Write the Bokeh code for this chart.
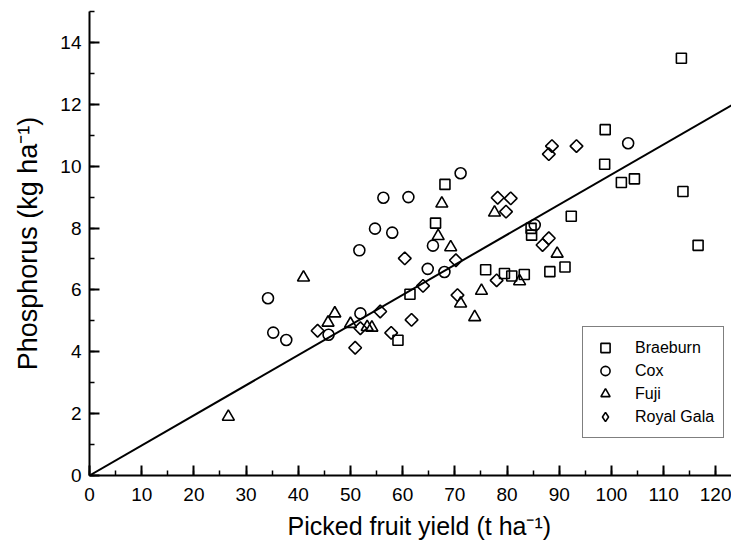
import math
from bokeh.plotting import figure
from bokeh.models import Range1d, SingleIntervalTicker, Slope, Legend, LegendItem, Title
from bokeh.embed import file_html
from bokeh.resources import INLINE

# Data
braeburn_x = [59.1, 61.4, 66.3, 68.1, 75.9, 79.5, 80.9, 83.3, 84.6, 84.7, 88.2, 91.1, 92.3, 98.7, 98.8, 101.9, 104.4, 113.4, 113.7, 116.6]
braeburn_y = [4.37, 5.86, 8.16, 9.41, 6.65, 6.53, 6.45, 6.50, 7.99, 7.77, 6.59, 6.74, 8.38, 10.06, 11.18, 9.47, 9.59, 13.49, 9.18, 7.44]

cox_x = [34.2, 35.2, 37.7, 45.8, 51.7, 51.9, 54.7, 56.3, 58.0, 61.1, 64.8, 65.8, 68.0, 71.1, 85.3, 103.2]
cox_y = [5.73, 4.62, 4.38, 4.55, 7.28, 5.24, 7.98, 8.98, 7.85, 9.00, 6.68, 7.43, 6.58, 9.77, 8.10, 10.74]

fuji_x = [26.6, 41.0, 45.7, 47.0, 50.0, 53.2, 54.1, 66.8, 67.5, 69.2, 71.1, 73.8, 75.1, 77.6, 82.4, 89.6]
fuji_y = [1.90, 6.40, 4.94, 5.24, 4.90, 4.80, 4.78, 7.74, 8.79, 7.38, 5.56, 5.12, 5.97, 8.50, 6.28, 7.17]

gala_x = [43.7, 50.9, 51.9, 55.7, 57.8, 60.4, 61.7, 63.9, 70.2, 70.5, 78.0, 78.2, 79.8, 80.7, 86.8, 88.0, 88.0, 88.6, 93.3]
gala_y = [4.68, 4.13, 4.76, 5.30, 4.61, 7.02, 5.03, 6.13, 6.96, 5.83, 6.31, 8.98, 8.53, 8.96, 7.45, 7.67, 10.39, 10.65, 10.65]

series_names = ["Braeburn", "Cox", "Fuji", "Royal Gala"]

fit_slope = 0.0973  # regression through origin

x_label = "Picked fruit yield (t ha\u207b\u00b9)"
y_label = "Phosphorus (kg ha\u207b\u00b9)"

FONT = "Liberation Sans"

p = figure(frame_width=642, frame_height=464,
           x_range=Range1d(0, 123.0), y_range=Range1d(0, 15),
           output_backend="svg", toolbar_location=None,
           min_border_left=89, min_border_right=0, min_border_top=11, min_border_bottom=60)

p.grid.visible = False
p.outline_line_color = None
p.background_fill_color = "white"

p.xaxis.ticker = SingleIntervalTicker(interval=10, num_minor_ticks=2)
p.yaxis.ticker = SingleIntervalTicker(interval=2, num_minor_ticks=2)

for ax in (p.xaxis[0], p.yaxis[0]):
    ax.axis_line_width = 2
    ax.axis_line_color = "black"
    ax.major_tick_in = 10
    ax.major_tick_out = 0
    ax.minor_tick_in = 5
    ax.minor_tick_out = 0
    ax.major_tick_line_width = 2
    ax.minor_tick_line_width = 1.5
    ax.major_tick_line_color = "black"
    ax.minor_tick_line_color = "black"
    ax.major_label_text_font = FONT
    ax.major_label_text_font_size = "19px"
    ax.major_label_text_color = "black"
    ax.axis_label_text_font = FONT
    ax.axis_label_text_font_style = "normal"
    ax.axis_label_text_color = "black"

p.yaxis.axis_label = y_label
p.yaxis.axis_label_text_font_size = "27px"
p.xaxis.major_label_standoff = 12
p.yaxis.major_label_standoff = 8
p.yaxis.axis_label_standoff = 14

xtitle = Title(text=x_label, align="left", offset=198, standoff=12,
               text_font=FONT, text_font_size="25px", text_font_style="normal",
               text_color="black")
p.add_layout(xtitle, "below")

p.add_layout(Slope(gradient=fit_slope, y_intercept=0, line_color="black", line_width=2))

common = dict(line_color="black", fill_color=None, line_width=1.6)
r_b = p.scatter(braeburn_x, braeburn_y, marker="square", size=10, **common)
r_c = p.scatter(cox_x, cox_y, marker="circle", size=11, **common)
r_f = p.scatter(fuji_x, fuji_y, marker="triangle", size=12, **common)
r_g = p.scatter(gala_x, gala_y, marker="square", size=9, angle=math.pi / 4, **common)
# legend-only glyph for the diamond symbol (the legend does not rotate markers)
r_g_leg = p.scatter(gala_x, gala_y, marker="diamond", size=14, visible=False, **common)

legend = Legend(items=[
    LegendItem(label=series_names[0], renderers=[r_b]),
    LegendItem(label=series_names[1], renderers=[r_c]),
    LegendItem(label=series_names[2], renderers=[r_f]),
    LegendItem(label=series_names[3], renderers=[r_g_leg]),
], location=(493, 37))
legend.border_line_color = "black"
legend.border_line_width = 1.5
legend.label_text_font = FONT
legend.label_text_font_size = "16px"
legend.label_text_color = "black"
legend.label_height = 23
legend.glyph_height = 23
legend.glyph_width = 26
legend.label_standoff = 17
legend.padding = 9
legend.spacing = 0
legend.margin = 0
legend.background_fill_alpha = 1
legend.inactive_fill_alpha = 0
p.add_layout(legend)

open("out.html", "w").write(file_html(p, INLINE))
